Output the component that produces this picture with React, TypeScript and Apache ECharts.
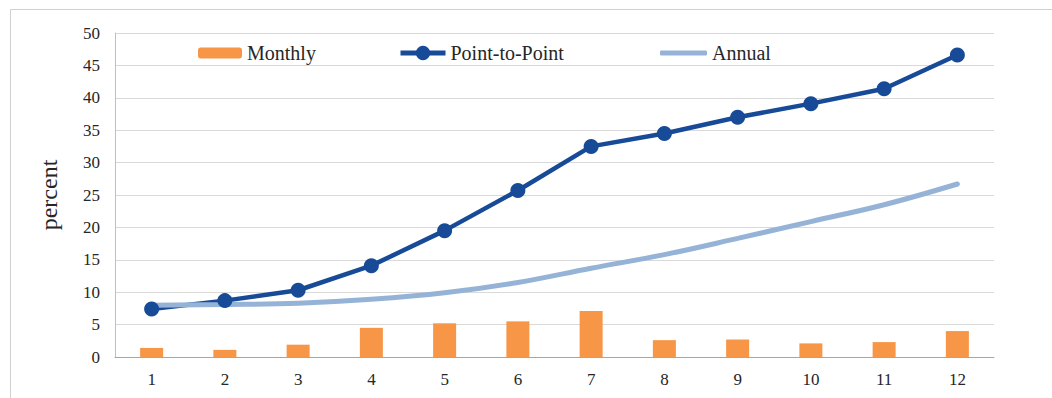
import React, { useEffect, useRef } from "react";
import * as echarts from "echarts";

const categories = ["1", "2", "3", "4", "5", "6", "7", "8", "9", "10", "11", "12"];
const monthly = [1.4, 1.1, 1.9, 4.5, 5.2, 5.5, 7.1, 2.6, 2.7, 2.1, 2.3, 4.0];
const pointToPoint = [7.4, 8.7, 10.3, 14.1, 19.5, 25.7, 32.5, 34.5, 37.0, 39.1, 41.4, 46.6];
const annual = [8.0, 8.1, 8.3, 8.9, 9.9, 11.5, 13.7, 15.8, 18.3, 20.9, 23.5, 26.7];

const FONT = '"Liberation Serif", "Times New Roman", serif';
const TEXT = "#262626";

export default function App() {
  const ref = useRef<HTMLDivElement>(null);
  useEffect(() => {
    if (!ref.current) return;
    const chart = echarts.init(ref.current, undefined, { renderer: "svg" });
    const legendText = { fontFamily: FONT, fontSize: 20, color: TEXT };
    chart.setOption({
      animation: false,
      textStyle: { fontFamily: FONT },
      graphic: [
        {
          type: "rect",
          shape: { x: 10.5, y: 9.5, width: 1100, height: 500 },
          style: { fill: "none", stroke: "#d0d0d0", lineWidth: 1 },
          silent: true,
        },
      ],
      legend: [
        {
          data: ["Monthly"],
          left: 198,
          top: 43,
          padding: 0,
          itemWidth: 44,
          itemHeight: 11,
          itemGap: 4,
          textStyle: legendText,
        },
        {
          data: ["Point-to-Point"],
          left: 398,
          top: 43,
          padding: 0,
          itemWidth: 45,
          itemHeight: 18,
          lineStyle: { width: 5 },
          textStyle: legendText,
        },
        {
          data: [{ name: "Annual", icon: "roundRect" }],
          left: 660,
          top: 43,
          padding: 0,
          itemWidth: 47,
          itemHeight: 5,
          textStyle: legendText,
        },
      ],
      grid: { left: 115, right: 58, top: 33, bottom: 41, containLabel: false },
      xAxis: {
        type: "category",
        data: categories,
        axisLine: { lineStyle: { color: "#a6a6a6", width: 1 } },
        axisTick: { show: false },
        axisLabel: { color: TEXT, fontSize: 17, fontFamily: FONT, margin: 14 },
      },
      yAxis: {
        type: "value",
        min: 0,
        max: 50,
        interval: 5,
        name: "percent",
        nameLocation: "middle",
        nameGap: 54,
        nameTextStyle: { color: TEXT, fontSize: 24, fontFamily: FONT },
        axisLine: { show: true, lineStyle: { color: "#bfbfbf", width: 1 } },
        axisTick: { show: false },
        axisLabel: { color: TEXT, fontSize: 17, fontFamily: FONT, margin: 15 },
        splitLine: { lineStyle: { color: "#d9d9d9", width: 1 } },
      },
      series: [
        {
          name: "Monthly",
          type: "bar",
          data: monthly,
          barWidth: 23,
          itemStyle: { color: "#F79646" },
        },
        {
          name: "Point-to-Point",
          type: "line",
          data: pointToPoint,
          symbol: "circle",
          symbolSize: 15,
          itemStyle: { color: "#174A97" },
          lineStyle: { color: "#174A97", width: 4.5 },
        },
        {
          name: "Annual",
          type: "line",
          data: annual,
          smooth: 0.4,
          showSymbol: false,
          symbol: "none",
          itemStyle: { color: "#95B3D7" },
          lineStyle: { color: "#95B3D7", width: 5, cap: "round" },
        },
      ],
    });
    return () => chart.dispose();
  }, []);
  return (
    <div
      ref={ref}
      style={{ position: "absolute", left: 0, top: 0, width: 1052, height: 398, background: "#fff" }}
    />
  );
}
